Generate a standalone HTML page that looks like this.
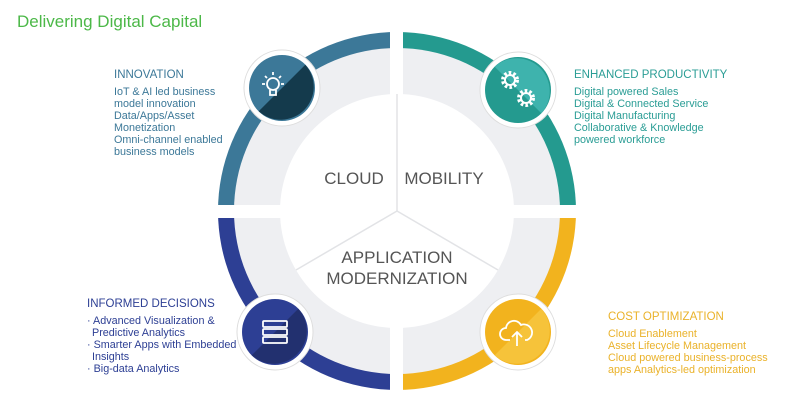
<!DOCTYPE html>
<html><head><meta charset="utf-8"><style>
body{margin:0;background:#fff;}
svg{display:block;font-family:"Liberation Sans",sans-serif;}
</style></head><body>
<svg width="800" height="400" viewBox="0 0 800 400">
<text x="17" y="27" font-size="17" fill="#4cb848">Delivering Digital Capital</text>

<path d="M397,211 L218,211 A179,179 0 0 1 397,32 Z" fill="#3c7898"/>
<path d="M397,211 L397,32 A179,179 0 0 1 576,211 Z" fill="#249a8f"/>
<path d="M397,211 L576,211 A179,179 0 0 1 397,390 Z" fill="#f2b31e"/>
<path d="M397,211 L397,390 A179,179 0 0 1 218,211 Z" fill="#2d3f94"/>
<circle cx="397" cy="211" r="163" fill="#eeeff2"/>
<rect x="390" y="20" width="13" height="380" fill="#fff"/>
<rect x="205" y="205" width="385" height="13" fill="#fff"/>
<circle cx="397" cy="211" r="117" fill="#fff"/>
<g stroke="#e2e3e6" stroke-width="1.5">
<line x1="397" y1="211" x2="397" y2="94"/>
<line x1="397" y1="211" x2="296" y2="270"/>
<line x1="397" y1="211" x2="498" y2="270"/>
</g>
<g font-size="17" fill="#555" text-anchor="middle">
<text x="354" y="184">CLOUD</text>
<text x="444" y="184">MOBILITY</text>
<text x="397" y="263">APPLICATION</text>
<text x="397" y="284">MODERNIZATION</text>
</g>

<g>
<circle cx="282" cy="88" r="38" fill="#fff" stroke="#ddd" stroke-width="1"/>
<circle cx="282" cy="88" r="33" fill="#3c7898"/>
<path d="M305.3,64.7 A33,33 0 0 1 258.7,111.3 Z" fill="#143a4c"/>
<g stroke="#fff" stroke-width="1.8" fill="none">
<circle cx="273" cy="84" r="6"/>
<path d="M270,90 v5 h6 v-5"/>
<line x1="273" y1="72" x2="273" y2="75"/><line x1="262" y1="84" x2="265" y2="84"/><line x1="281" y1="84" x2="284" y2="84"/>
<line x1="265" y1="76" x2="267" y2="78"/><line x1="281" y1="76" x2="279" y2="78"/>
</g>
</g>
<g>
<circle cx="518" cy="90" r="38" fill="#fff" stroke="#ddd" stroke-width="1"/>
<circle cx="518" cy="90" r="33" fill="#249a8f"/>
<path d="M494.7,66.7 A33,33 0 0 1 541.3,113.3 Z" fill="#3eb3ad"/>
<circle cx="510" cy="80" r="7" fill="none" stroke="#fff" stroke-width="4" stroke-dasharray="2.5 2"/>
<circle cx="510" cy="80" r="5" fill="none" stroke="#fff" stroke-width="2"/>
<circle cx="526" cy="98" r="7" fill="none" stroke="#fff" stroke-width="4" stroke-dasharray="2.5 2"/>
<circle cx="526" cy="98" r="5" fill="none" stroke="#fff" stroke-width="2"/>
</g>
<g>
<circle cx="275" cy="332" r="38" fill="#fff" stroke="#ddd" stroke-width="1"/>
<circle cx="275" cy="332" r="33" fill="#2d3f94"/>
<path d="M298.3,308.7 A33,33 0 0 1 251.7,355.3 Z" fill="#22306f"/>
<g fill="none" stroke="#fff" stroke-width="1.8">
<rect x="263" y="321" width="24" height="6" rx="1"/>
<rect x="263" y="329" width="24" height="6" rx="1"/>
<rect x="263" y="337" width="24" height="6" rx="1"/>
</g>
</g>
<g>
<circle cx="518" cy="332" r="38" fill="#fff" stroke="#ddd" stroke-width="1"/>
<circle cx="518" cy="332" r="33" fill="#f2b31e"/>
<path d="M541.3,308.7 A33,33 0 0 1 494.7,355.3 Z" fill="#f6c33a"/>
<path d="M510,340 h-4 a6,6 0 0 1 0,-12 a8,8 0 0 1 15,-3 a7,7 0 0 1 6,15 h-2" fill="none" stroke="#fff" stroke-width="1.8"/>
<path d="M517,346 v-13 M512,337 l5,-5 l5,5" fill="none" stroke="#fff" stroke-width="1.8"/>
</g>

<g font-size="10.8" fill="#3c7898">
<text x="114" y="78" font-size="11.5">INNOVATION</text>
<text x="114" y="95">IoT &amp; AI led business</text>
<text x="114" y="107">model innovation</text>
<text x="114" y="119">Data/Apps/Asset</text>
<text x="114" y="131">Monetization</text>
<text x="114" y="143">Omni-channel enabled</text>
<text x="114" y="155">business models</text>
</g>
<g font-size="10.8" fill="#2a9d95">
<text x="574" y="78" font-size="11.5">ENHANCED PRODUCTIVITY</text>
<text x="574" y="95">Digital powered Sales</text>
<text x="574" y="107">Digital &amp; Connected Service</text>
<text x="574" y="119">Digital Manufacturing</text>
<text x="574" y="131">Collaborative &amp; Knowledge</text>
<text x="574" y="143">powered workforce</text>
</g>
<g font-size="10.8" fill="#2d3f94">
<text x="87" y="307" font-size="11.5">INFORMED DECISIONS</text>
<text x="87" y="324">· Advanced Visualization &amp;</text>
<text x="92" y="336">Predictive Analytics</text>
<text x="87" y="348">· Smarter Apps with Embedded</text>
<text x="92" y="360">Insights</text>
<text x="87" y="372">· Big-data Analytics</text>
</g>
<g font-size="10.8" fill="#eab22a">
<text x="608" y="320" font-size="11.5">COST OPTIMIZATION</text>
<text x="608" y="337">Cloud Enablement</text>
<text x="608" y="349">Asset Lifecycle Management</text>
<text x="608" y="361">Cloud powered business-process</text>
<text x="608" y="373">apps Analytics-led optimization</text>
</g>
</svg>
</body></html>
